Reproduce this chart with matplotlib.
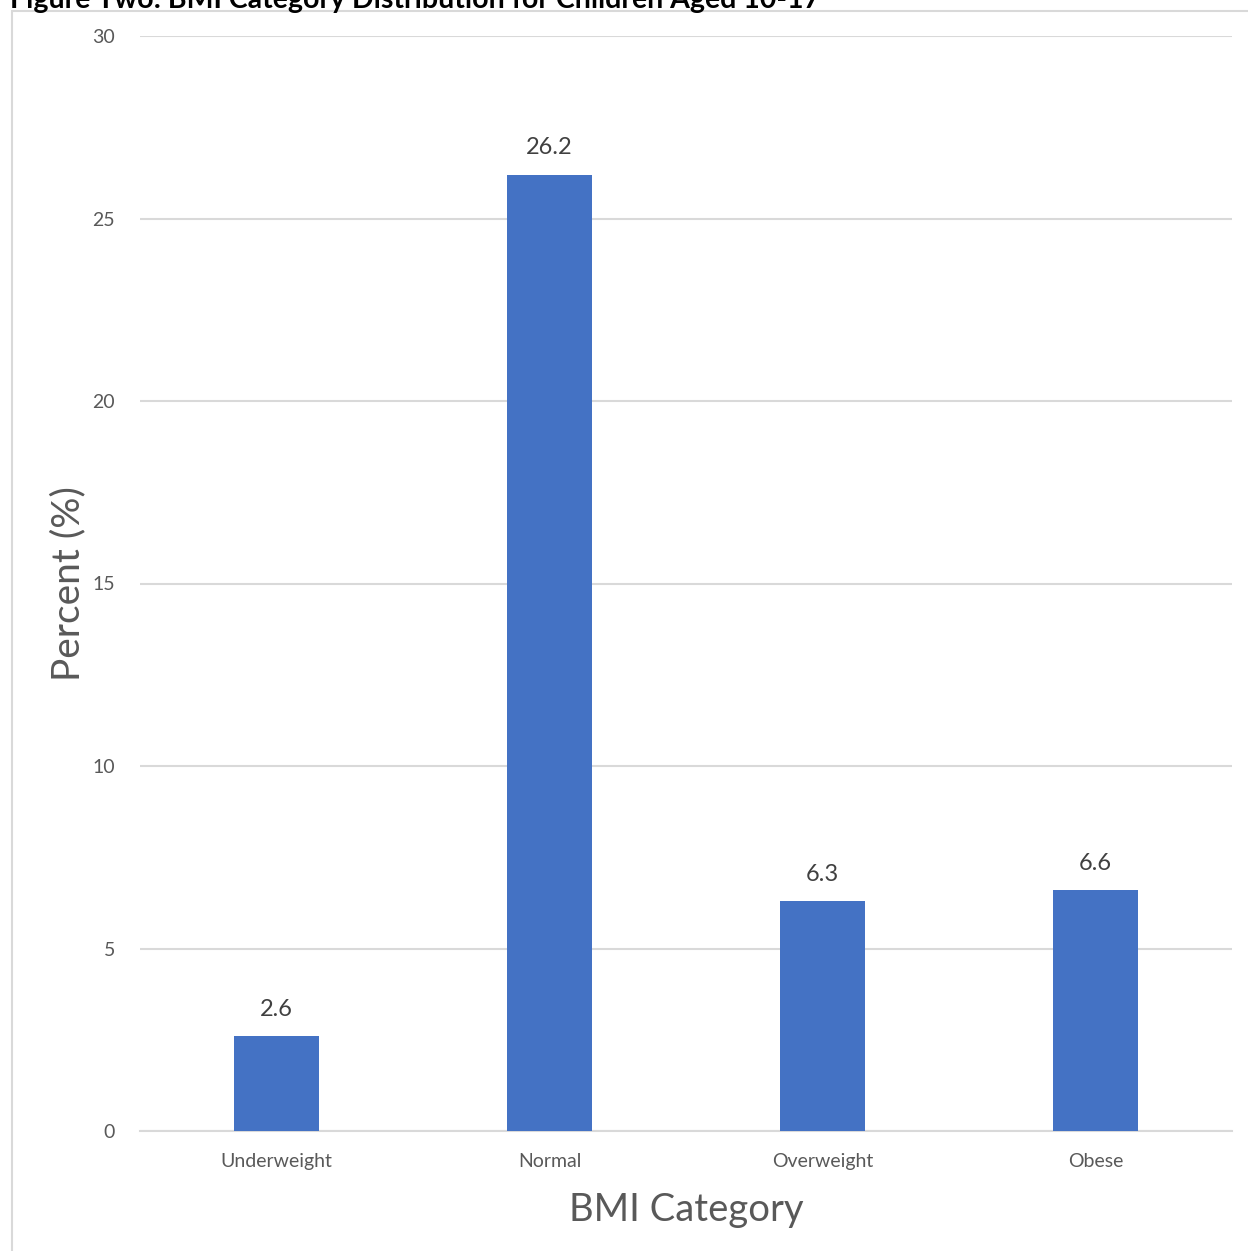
import matplotlib
matplotlib.use("Agg")
import matplotlib.pyplot as plt
from matplotlib.patches import Rectangle

categories = ["Underweight", "Normal", "Overweight", "Obese"]
percent = [2.6, 26.2, 6.3, 6.6]
yticks = [0, 5, 10, 15, 20, 25, 30]

W, H = 1248, 1251
fig = plt.figure(figsize=(W / 100, H / 100), dpi=100)
plt.rcParams['font.family'] = ['Lato', 'DejaVu Sans']

# chart frame (partly outside the image)
fig.patches.append(Rectangle((12 / W, -0.05), 1.2, 1.05 - 11 / H,
                             transform=fig.transFigure, fill=False,
                             edgecolor='#d9d9d9', linewidth=1.5))

# title, clipped at the top like the source image
fig.text(10 / W, 1 - 8 / H, "Figure Two: BMI Category Distribution for Children Aged 10-17",
         fontsize=20.5, fontweight='bold', color='black', va='baseline', ha='left')

ax = fig.add_axes([140 / W, 1 - 1131 / H, (1232 - 140) / W, (1131 - 36) / H])
x = range(len(categories))
bars = ax.bar(x, percent, width=0.315, color='#4472c4', zorder=3)
for xi, v in zip(x, percent):
    ax.text(xi, v + 0.45, f"{v}", ha='center', va='bottom', fontsize=17, color='#404040')

ax.set_xlim(-0.5, len(categories) - 0.5)
ax.set_ylim(0, 30)
ax.set_yticks(yticks)
ax.set_xticks(list(x))
ax.set_xticklabels(categories, fontsize=14, color='#595959')
ax.tick_params(axis='y', labelsize=14, labelcolor='#595959', length=0, pad=18)
ax.tick_params(axis='x', length=0, pad=16)
ax.yaxis.grid(True, color='#d9d9d9', linewidth=1.5, zorder=0)
for s in ['top', 'right', 'left']:
    ax.spines[s].set_visible(False)
ax.spines['bottom'].set_color('#d9d9d9')
ax.spines['bottom'].set_linewidth(1.5)

ax.set_ylabel("Percent (%)", fontsize=28, color='#595959', va='center')
ax.yaxis.set_label_coords(-0.066, 0.5)
ax.set_xlabel("BMI Category", fontsize=27.5, color='#595959', labelpad=16)

fig.savefig("out.png", dpi=100)
